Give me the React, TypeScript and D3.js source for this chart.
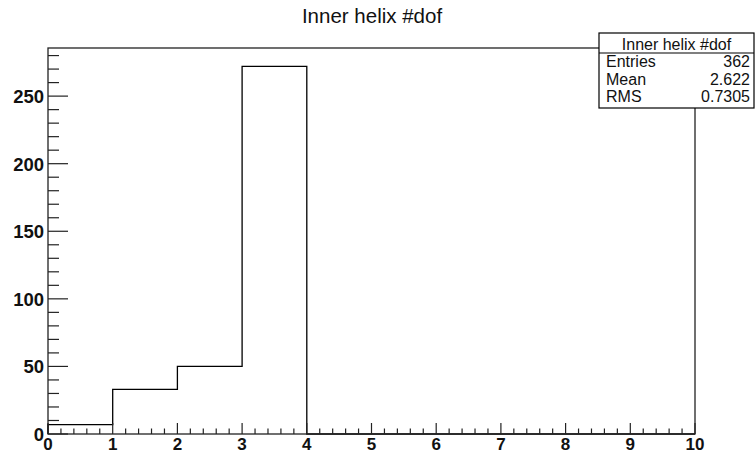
import React, { useEffect, useRef } from "react";
import * as d3 from "d3";

// histogram contents (integer bins 0..9)
const binLow = [0, 1, 2, 3, 4, 5, 6, 7, 8, 9];
const counts = [7, 33, 50, 272, 0, 0, 0, 0, 0, 0];
const yTicks = [0, 50, 100, 150, 200, 250];
const xTicks = [0, 1, 2, 3, 4, 5, 6, 7, 8, 9, 10];
const statNames = ["Entries", "Mean", "RMS"];
const statValues = ["362", "2.622", "0.7305"];
const title = "Inner helix #dof";

const App = () => {
  const ref = useRef<SVGSVGElement>(null);
  const width = 755;
  const height = 454;
  const left = 48;
  const right = 695;
  const top = 48;
  const bottom = 434;
  const FONT = "'Liberation Sans', Arial, sans-serif";

  useEffect(() => {
    if (!ref.current) return;
    const svg = d3.select(ref.current);
    svg.selectAll("*").remove();

    const x = d3.scaleLinear().domain([0, 10]).range([left, right]);
    const y = d3.scaleLinear().domain([0, d3.max(counts)! * 1.05]).range([bottom, top]);

    // title
    svg.append("text")
      .attr("x", 372).attr("y", 23)
      .attr("text-anchor", "middle")
      .style("font-family", FONT).style("font-size", "20.5px")
      .attr("fill", "#111")
      .text(title);

    // histogram step outline
    const pts: [number, number][] = [[x(0), y(0)]];
    binLow.forEach((lo, i) => {
      pts.push([x(lo), y(counts[i])]);
      pts.push([x(lo + 1), y(counts[i])]);
    });
    pts.push([x(10), y(0)]);
    svg.append("path")
      .attr("d", d3.line()(pts))
      .attr("fill", "none")
      .attr("stroke", "#000")
      .attr("stroke-width", 1.3);

    // frame
    svg.append("rect")
      .attr("x", left).attr("y", top)
      .attr("width", right - left).attr("height", bottom - top)
      .attr("fill", "none").attr("stroke", "#222").attr("stroke-width", 1.3);

    // y ticks
    d3.range(0, y.domain()[1], 10).forEach((v) => {
      const major = v % 50 === 0;
      svg.append("line")
        .attr("x1", left).attr("x2", left + (major ? 20 : 11))
        .attr("y1", y(v)).attr("y2", y(v))
        .attr("stroke", "#222").attr("stroke-width", 1.2);
    });
    yTicks.forEach((v) => {
      svg.append("text")
        .attr("x", 44).attr("y", y(v) + 7)
        .attr("text-anchor", "end")
        .style("font-family", FONT).style("font-size", "18.5px").style("font-weight", "bold")
        .attr("fill", "#111")
        .text(v);
    });

    // x ticks
    d3.range(0, 10.001, 0.2).forEach((v) => {
      const major = Math.abs(v - Math.round(v)) < 1e-6;
      svg.append("line")
        .attr("x1", x(v)).attr("x2", x(v))
        .attr("y1", bottom).attr("y2", bottom - (major ? 11 : 5.5))
        .attr("stroke", "#222").attr("stroke-width", 1.2);
    });
    xTicks.forEach((v) => {
      svg.append("text")
        .attr("x", x(v)).attr("y", 450)
        .attr("text-anchor", "middle")
        .style("font-family", FONT).style("font-size", "17px").style("font-weight", "bold")
        .attr("fill", "#111")
        .text(v);
    });

    // stats box
    const bx = 599, by = 33, bw = 155, bh = 75, hh = 20;
    svg.append("rect")
      .attr("x", bx).attr("y", by).attr("width", bw).attr("height", bh)
      .attr("fill", "#fff").attr("stroke", "#000").attr("stroke-width", 1.2);
    svg.append("line")
      .attr("x1", bx).attr("x2", bx + bw)
      .attr("y1", by + hh).attr("y2", by + hh)
      .attr("stroke", "#000").attr("stroke-width", 1.2);
    svg.append("text")
      .attr("x", bx + bw / 2).attr("y", by + hh - 3)
      .attr("text-anchor", "middle")
      .style("font-family", FONT).style("font-size", "16px")
      .attr("fill", "#111")
      .text(title);
    statNames.forEach((n, i) => {
      const ty = 67 + i * 17.5;
      svg.append("text")
        .attr("x", bx + 7).attr("y", ty)
        .style("font-family", FONT).style("font-size", "16px")
        .attr("fill", "#111")
        .text(n);
      svg.append("text")
        .attr("x", bx + bw - 4).attr("y", ty)
        .attr("text-anchor", "end")
        .style("font-family", FONT).style("font-size", "16px")
        .attr("fill", "#111")
        .text(statValues[i]);
    });
  }, []);

  return (
    <svg
      ref={ref}
      width={width}
      height={height}
      style={{ position: "absolute", left: 0, top: 0, background: "#fff" }}
    />
  );
};

export default App;
